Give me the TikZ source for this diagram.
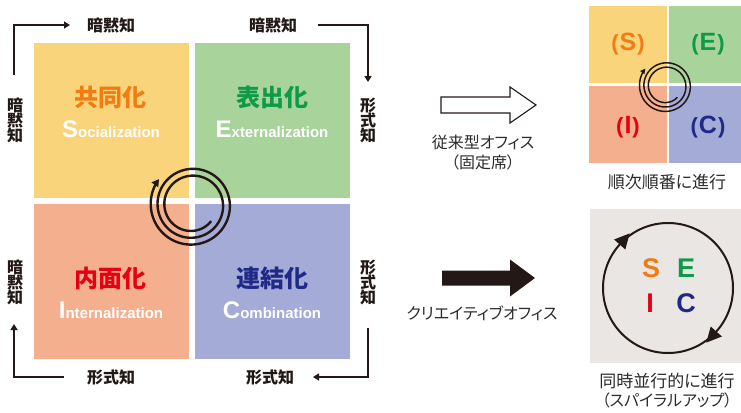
\documentclass[tikz,border=0pt]{standalone}
\usepackage{fontspec}
\setmainfont{Liberation Sans}
\newfontfamily\jp{Noto Sans CJK JP}
\newfontfamily\jpp[RawFeature=+palt]{Noto Sans CJK JP}
\usetikzlibrary{arrows.meta}
\definecolor{qS}{HTML}{FAD47B}
\definecolor{qE}{HTML}{A8D39A}
\definecolor{qI}{HTML}{F4AF8E}
\definecolor{qC}{HTML}{A3ABD6}
\definecolor{tS}{HTML}{EF7D14}
\definecolor{tE}{HTML}{0E9A48}
\definecolor{tI}{HTML}{E60013}
\definecolor{tC}{HTML}{1F2A88}
\definecolor{ink}{HTML}{231815}
\definecolor{txt}{HTML}{2B2B2B}
\definecolor{boxgray}{HTML}{E9E6E3}
\tikzset{
  quad/.style={draw=none, minimum width=155pt, minimum height=155pt, inner sep=0pt},
  jtitle/.style={font=\jp\bfseries\fontsize{24}{24}\selectfont, inner sep=0pt},
  etitle/.style={text=white, font=\bfseries, inner sep=0pt},
  klabel/.style={font=\jp\bfseries\fontsize{16}{16}\selectfont, text=ink, inner sep=0pt},
  vlabel/.style={klabel, align=center},
  flow/.style={draw=ink, line width=2pt, -{Triangle[length=6pt,width=7pt]}},
  small/.style={quad, minimum width=78pt, minimum height=77pt},
  plabel/.style={font=\bfseries\fontsize{25}{25}\selectfont, inner sep=0pt},
  capt/.style={font=\jpp\fontsize{16}{16}\selectfont, text=txt, inner sep=0pt},
  seic/.style={font=\bfseries\fontsize{27}{27}\selectfont, inner sep=0pt}
}
\newcommand{\seicbig}[1]{{\fontsize{24}{24}\selectfont #1}}
\newcommand{\seicrest}[1]{{\fontsize{15}{15}\selectfont #1}}
\newcommand{\paren}[1]{{\fontsize{22}{22}\selectfont(}\kern1pt#1\kern1pt{\fontsize{22}{22}\selectfont)}}
\begin{document}
\begin{tikzpicture}[x=1pt,y=-1pt]
\useasboundingbox (0,0) rectangle (741,412);
% left quadrants
\node[quad, fill=qS, anchor=north west] (qs) at (34,43) {};
\node[quad, fill=qE, anchor=north west] (qe) at (195,43) {};
\node[quad, fill=qI, anchor=north west] (qi) at (34,204) {};
\node[quad, fill=qC, anchor=north west] (qc) at (195,204) {};
\node[jtitle, text=tS] (js) at (110,97) {共同化};
\node[jtitle, text=tE] (je) at (272,97) {表出化};
\node[jtitle, text=tI] (ji) at (110,278) {内面化};
\node[jtitle, text=tC] (jc) at (272,278) {連結化};
\node[etitle, anchor=base] (es) at (111,137) {\seicbig{S}\seicrest{ocialization}};
\node[etitle, anchor=base] (ee) at (272,137) {\seicbig{E}\seicrest{xternalization}};
\node[etitle, anchor=base] (ei) at (111,318) {\seicbig{I}\seicrest{nternalization}};
\node[etitle, anchor=base] (ec) at (272,318) {\seicbig{C}\seicrest{ombination}};
% big spiral
\draw[ink, line width=2.4pt, -{Triangle[length=7pt,width=8pt]}]
  plot[domain=40:938, samples=240, smooth] ({192+(25+17*(\x-40)/898)*cos(\x)}, {205+(25+17*(\x-40)/898)*sin(\x)});
% outer labels
\node[klabel] (t1) at (111,25) {暗黙知};
\node[klabel] (t2) at (273,25) {暗黙知};
\node[klabel] (b1) at (111,377) {形式知};
\node[klabel] (b2) at (270,377) {形式知};
\node[vlabel] (l1) at (15,120) {暗\\[-1pt]黙\\[-1pt]知};
\node[vlabel] (r1) at (368,120) {形\\[-1pt]式\\[-1pt]知};
\node[vlabel] (l2) at (15,282) {暗\\[-1pt]黙\\[-1pt]知};
\node[vlabel] (r2) at (368,282) {形\\[-1pt]式\\[-1pt]知};
\coordinate (a1s) at (14,75); \coordinate (a1e) at (70,25);
\coordinate (a2s) at (318,25); \coordinate (a2e) at (368,82);
\coordinate (a3s) at (368,328); \coordinate (a3e) at (313,377);
\coordinate (a4s) at (64,377); \coordinate (a4e) at (14,324);
\draw[flow] (a1s) |- (a1e);
\draw[flow] (a2s) -| (a2e);
\draw[flow] (a3s) |- (a3e);
\draw[flow] (a4s) -| (a4e);
% hollow arrow
\draw[ink, line width=1.1pt, fill=white, line join=miter]
  (441,97) -- (510,97) -- (510,87) -- (536,105) -- (510,123) -- (510,113) -- (441,113) -- cycle;
\node[capt] (c1) at (483,142) {従来型オフィス};
\node[capt] (c2) at (483,162) {（固定席）};
% black arrow
\fill[ink] (442,270.5) -- (510,270.5) -- (510,259.5) -- (535,278) -- (510,296.5) -- (510,285.5) -- (442,285.5) -- cycle;
\node[capt] (c3) at (482,313) {クリエイティブオフィス};
% small grid
\node[small, fill=qS, anchor=north west] (ss) at (589,6) {};
\node[small, fill=qE, anchor=north west] (se) at (669,6) {};
\node[small, fill=qI, anchor=north west] (si) at (589,86) {};
\node[small, fill=qC, anchor=north west] (sc) at (669,86) {};
\node[plabel, text=tS] (ps) at (628,44) {\paren{S}};
\node[plabel, text=tE] (pe) at (708,44) {\paren{E}};
\node[plabel, text=tI] (pi) at (628,127) {\paren{I}};
\node[plabel, text=tC] (pc) at (708,127) {\paren{C}};
\draw[ink, line width=1.5pt, -{Triangle[length=5pt,width=5pt]}]
  plot[domain=45:940, samples=240, smooth] ({666+(16+11*(\x-45)/895)*cos(\x)}, {86+(16+11*(\x-45)/895)*sin(\x)});
\node[capt, font=\jpp\fontsize{17}{17}\selectfont] (c4) at (667,182) {順次順番に進行};
% gray box
\node[draw=none, fill=boxgray, minimum width=151pt, minimum height=154pt, inner sep=0pt, anchor=north west] (gb) at (590,209) {};
\coordinate (cc) at (668,288);
\draw[ink, line width=2pt] (cc) circle[radius=65];
\fill[ink] (614.1,239.5) -- (629.7,233.4) -- (625.3,249.5) -- cycle;
\fill[ink] (721.9,336.5) -- (706.3,342.6) -- (710.7,326.5) -- cycle;
\node[seic, text=tS] (ls) at (651,268) {S};
\node[seic, text=tE] (le) at (686,268) {E};
\node[seic, text=tI] (li) at (650,303) {I};
\node[seic, text=tC] (lc) at (686,303) {C};
\node[capt, font=\jpp\fontsize{17}{17}\selectfont] (c5) at (667,381) {同時並行的に進行};
\node[capt, font=\jpp\fontsize{16}{16}\selectfont] (c6) at (667,400) {（スパイラルアップ）};
\end{tikzpicture}
\end{document}
